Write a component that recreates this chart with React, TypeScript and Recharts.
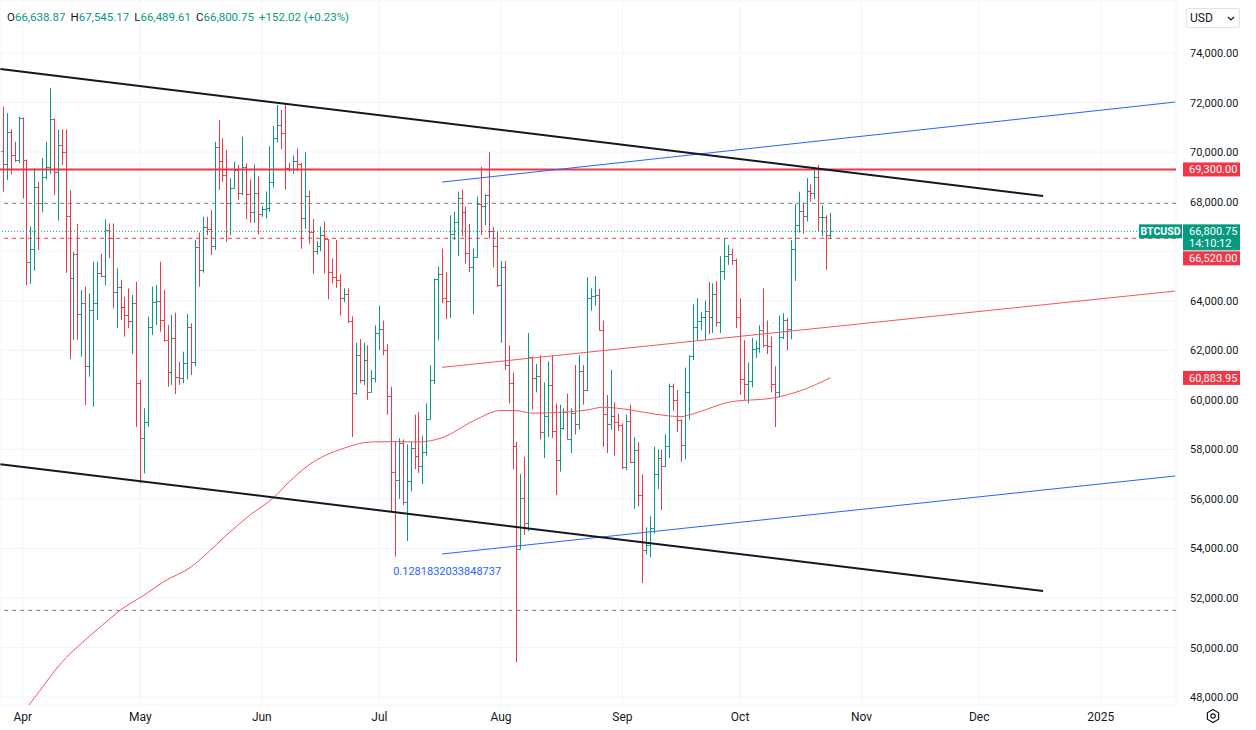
import React from "react";
import { ComposedChart, Bar, Line, XAxis, YAxis, CartesianGrid, ReferenceLine } from "recharts";

// BTCUSD daily bars, 27 Mar 2024 .. 24 Oct 2024. x = days since 1 Apr 2024.
const FIRST_DAY = -5;
const firstOpen = 70056;
const lastOpen = 66638.87;

const closes = [
  69520, 70820, 69900, 69700, 71360,
  69700, 65580, 66080, 68600, 67930, 68980, 69390, 71320, 69210, 70290,
  70020, 67420, 64900, 65900, 63460, 63920, 61360, 63630, 63920, 65130,
  65000, 66860, 66520, 64360, 64570, 63760, 63420, 63190, 63900, 60670,
  58450, 59120, 62950, 63960, 64000, 63220, 62400, 61130, 62480, 60930,
  60860, 61500, 62930, 61540, 66180, 65240, 66990, 66900, 66210, 70220,
  69650, 69080, 67930, 68540, 69280, 68340, 69390, 68300, 67578, 68364, 67491,
  67706, 67751, 68804, 70567, 71082, 70757, 69342, 69305, 69648, 69500,
  67321, 68243, 66756, 66012, 66192, 66639, 66490, 65140, 64960, 64828,
  64096, 64252, 63180, 60277, 61804, 60811, 61604, 60320, 60887, 62678,
  62851, 62029, 60173, 57100, 56760, 58239, 55857, 56705, 58047, 57724,
  57344, 57899, 59231, 60787, 64870, 65097, 64118, 63974, 66710, 67163,
  68154, 67586, 65927, 65372, 65777, 67912, 67813, 68255, 66819, 66201, 64619,
  65357, 61415, 60680, 58116, 53991, 56034, 55027, 61710, 60880, 60945,
  58719, 59354, 60609, 58737, 57560, 58874, 59491, 58427, 59479, 59014,
  61159, 60381, 64094, 64178, 64220, 62834, 59415, 59034, 59359, 59123, 58973,
  57301, 59132, 57487, 57971, 56160, 53948, 54139, 54841, 57020, 57648,
  57343, 58127, 60571, 60005, 59182, 58192, 60309, 61759, 62947, 63201,
  63348, 63579, 63339, 64262, 63143, 65181, 65790, 65887, 65635, 63329,
  60837, 60632, 60759, 62067, 62089, 62819, 62224, 62160, 60636, 60326,
  62540, 63206, 62870, 66083, 67074, 67620, 67421, 68428, 68362, 69001,
  67367, 67378, 66648.73, 66800.75,
];

const highs = [
  71830, 71570, 70920, 70420, 71430,
  71400, 69700, 66990, 69350, 68800, 69750, 70420, 72580, 71350, 70890,
  70920, 70920, 68470, 65980, 67100, 64430, 64570, 64300, 65580, 65580,
  65910, 67290, 67120, 67120, 65310, 64840, 64160, 64500, 64230, 64770,
  60800, 59660, 63360, 64570, 64630, 65580, 64430, 63020, 63420, 63520,
  61540, 61940, 63460, 63090, 66450, 66750, 67390, 67390, 67660, 70420,
  71300, 70560, 70080, 68940, 69610, 69480, 70620, 69550, 68900, 69500, 69020,
  67839, 68410, 70230, 71047, 71900, 71700, 71950, 69560, 69860, 70150,
  69560, 69999, 68440, 67300, 66400, 66990, 67200, 66490, 65700, 66450,
  65070, 64500, 64500, 63370, 62300, 62450, 62300, 62200, 61200, 63000,
  63800, 63200, 62250, 60530, 58310, 58450, 58400, 58200, 58300, 59400,
  59500, 58550, 59850, 61400, 64900, 65380, 66100, 65150, 67450, 67600,
  68400, 68480, 67800, 67100, 66100, 68200, 69400, 68300, 70000, 66980, 66800,
  65600, 65600, 62200, 61100, 58300, 57000, 57700, 62700, 61750, 61450,
  61800, 60700, 61550, 61800, 59850, 59800, 59650, 60250, 59650, 61400,
  61800, 61400, 64950, 64500, 65000, 64480, 63200, 60200, 61200, 59900, 59450,
  59050, 59400, 59800, 58500, 58300, 56980, 54850, 55300, 58100, 58000,
  57980, 58600, 60650, 60650, 60400, 59200, 61300, 61800, 63850, 64100,
  63550, 64000, 64750, 64700, 64800, 65800, 66500, 66250, 66100, 65700,
  64100, 62400, 61500, 62500, 62400, 63000, 64500, 63200, 62550, 61350,
  63400, 63500, 63300, 66450, 67900, 68400, 67950, 68950, 68700, 69400,
  69487, 67850, 67450, 67545.17,
];

const lows = [
  68400, 68870, 69100, 69600, 69560,
  68130, 64630, 64680, 65210, 66050, 67570, 68900, 69120, 68270, 67230,
  69480, 65130, 61640, 62410, 62410, 61740, 59790, 60930, 59720, 63220,
  64950, 64630, 65710, 63690, 62890, 63220, 62550, 62890, 61850, 58910,
  56630, 57030, 58910, 62620, 63020, 62750, 62350, 60530, 60600, 60230,
  60600, 60670, 60830, 61000, 61360, 64570, 65130, 66650, 65850, 66050,
  68470, 68800, 66380, 66650, 68540, 68070, 68260, 67300, 67150, 67140, 66670,
  67387, 67314, 67589, 68564, 70390, 70119, 68500, 69210, 69123, 69230,
  66100, 66900, 66300, 65080, 65870, 66000, 65100, 64060, 64700, 64520,
  63400, 63940, 63100, 58500, 60200, 60680, 60600, 60000, 60300, 60700,
  62000, 61800, 59400, 55480, 53670, 56000, 55750, 54300, 56300, 57200,
  57050, 56600, 57750, 59200, 60630, 62400, 63900, 63260, 63300, 66450,
  65800, 66600, 65500, 65150, 63450, 65750, 66650, 67050, 66500, 65350, 64550,
  62300, 61200, 59850, 57200, 49400, 53950, 54550, 54700, 59600, 60300,
  58400, 57650, 58500, 58450, 56150, 57100, 58800, 58400, 57850, 58600,
  58800, 59800, 60350, 63600, 63800, 62800, 58100, 57850, 58800, 57750, 58750,
  57200, 57150, 57450, 55600, 55700, 52600, 53750, 53650, 54600, 56400,
  55550, 57300, 57650, 59550, 58700, 57500, 57600, 59200, 61600, 62400,
  62800, 62400, 62650, 62700, 62950, 62700, 64850, 65450, 65450, 62900,
  60200, 60000, 59850, 60500, 61700, 61900, 62100, 61850, 60300, 58900,
  60100, 62450, 62000, 62450, 64800, 66750, 66700, 67200, 68000, 68100,
  66800, 66600, 65260, 66489.61,
];

// 200-day moving average at a few dates
const maDays = [1, 2, 11, 15, 20, 25, 31, 36, 43, 47, 52, 58, 64, 68, 73, 82, 89, 95, 101, 107, 115, 122, 126, 130, 135, 144, 148, 155, 161, 168, 170, 181, 191, 195, 199, 206];
const maValues = [47560, 47760, 49580, 50170, 50860, 51520, 52120, 52660, 53260, 53800, 54540, 55350, 56050, 56690, 57370, 58050, 58300, 58310, 58300, 58470, 59150, 59570, 59560, 59460, 59480, 59590, 59700, 59590, 59430, 59320, 59390, 59930, 60060, 60200, 60400, 60883.95];

const monthDays = [0, 30, 61, 91, 122, 153, 183, 214, 244, 275];
const monthLabels = ["Apr", "May", "Jun", "Jul", "Aug", "Sep", "Oct", "Nov", "Dec", "2025"];
const priceTicks = [48000, 50000, 52000, 54000, 56000, 58000, 60000, 62000, 64000, 66000, 68000, 70000, 72000, 74000];

// drawings, as [day, price] anchor pairs
const channelTop = [[-5.7, 73350], [260.3, 68230]];
const channelBottom = [[-5.7, 57400], [260.3, 52280]];
const blueTop = [[107, 68790], [294, 72020]];
const blueBottom = [[107, 53775], [294, 56925]];
const redTrend = [[107, 61310], [294, 64390]];

const resistance = 69300;
const alertLevel = 66520;
const lastPrice = 66800.75;
const maLast = 60883.95;
const dashedLevels = [67930, 51500];
const fibText = "0.1281832033848737";

const UP = "#089981";
const DOWN = "#f23645";
const FONT = "Roboto, 'Liberation Sans', sans-serif";

const fmt = (v: number) => v.toLocaleString("en-US", { minimumFractionDigits: 2, maximumFractionDigits: 2 });

function OhlcBar(props: any) {
  const { x, y, width, height, payload } = props;
  const { open, high, low, close } = payload;
  const top = Math.min(y, y + height);
  const bot = Math.max(y, y + height);
  const span = high - low || 1;
  const py = (v: number) => top + ((high - v) / span) * (bot - top);
  const cx = Math.round(x + width / 2) + 0.5;
  const c = close >= open ? UP : DOWN;
  const yo = Math.round(py(open)) + 0.5;
  const yc = Math.round(py(close)) + 0.5;
  return (
    <g>
      <line x1={cx} x2={cx} y1={top} y2={bot} stroke={c} strokeWidth={1} />
      <line x1={cx - 2} x2={cx} y1={yo} y2={yo} stroke={c} strokeWidth={1} />
      <line x1={cx} x2={cx + 2} y1={yc} y2={yc} stroke={c} strokeWidth={1} />
    </g>
  );
}

function PriceTag(props: any) {
  const { viewBox, text, sub, color, shift = 0, ticker } = props;
  if (!viewBox) return null;
  const ly = viewBox.y + shift;
  const left = viewBox.x + viewBox.width + 7;
  const h = sub ? 26 : 14;
  return (
    <g fontFamily={FONT}>
      {ticker && (
        <g>
          <rect x={left - 44} y={ly - 7} width={43} height={14} fill={color} />
          <text x={left - 22.5} y={ly + 4} fill="#fff" fontSize={10.5} fontWeight={700} textAnchor="middle">{ticker}</text>
        </g>
      )}
      <rect x={left} y={ly - 7} width={57} height={h} fill={color} />
      <text x={left + 6} y={ly + 4} fill="#fff" fontSize={11}>{text}</text>
      {sub && <text x={left + 6} y={ly + 16} fill="#fff" fontSize={11}>{sub}</text>}
    </g>
  );
}

function FibLabel(props: any) {
  const { viewBox } = props;
  if (!viewBox) return null;
  return (
    <text x={viewBox.x - 49} y={viewBox.y + viewBox.height + 21} fill="#2962ff" fontSize={11} fontFamily={FONT}>
      {fibText}
    </text>
  );
}

function PriceTick(props: any) {
  const { x, y, payload } = props;
  if (payload.value === 66000) return <g />;
  return (
    <text x={x} y={y + 4} fill="#131722" fontSize={11} fontFamily={FONT}>{fmt(payload.value)}</text>
  );
}

function MonthTick(props: any) {
  const { x, payload } = props;
  const i = monthDays.indexOf(payload.value);
  return (
    <text x={x} y={721} fill="#131722" fontSize={12} fontFamily={FONT} textAnchor="middle">{monthLabels[i]}</text>
  );
}

const seg = (p: number[][]) => [{ x: p[0][0], y: p[0][1] }, { x: p[1][0], y: p[1][1] }];

export default function App() {
  const data = closes.map((close, i) => {
    const d = FIRST_DAY + i;
    const k = maDays.indexOf(d);
    const open = i === 0 ? firstOpen : i === closes.length - 1 ? lastOpen : closes[i - 1];
    return {
      d,
      open,
      high: highs[i],
      low: lows[i],
      close,
      range: [lows[i], highs[i]],
      ma: k >= 0 ? maValues[k] : null,
    };
  });
  const last = data[data.length - 1];
  const prevClose = closes[closes.length - 2];
  const change = last.close - prevClose;
  const lbl = { color: "#131722", marginLeft: 5 };

  return (
    <div style={{ position: "relative", width: 1256, height: 730, background: "#fff", fontFamily: FONT }}>
      <style>{"body{margin:0}"}</style>
      <ComposedChart width={1256} height={730} data={data} margin={{ top: 0, right: 0, bottom: 0, left: 0 }}>
        <CartesianGrid stroke="#f0f3fa" />
        <XAxis
          dataKey="d"
          type="number"
          domain={[-5.79, 294.2]}
          allowDataOverflow
          ticks={monthDays}
          interval={0}
          tick={<MonthTick />}
          axisLine={false}
          tickLine={false}
          height={25}
        />
        <YAxis
          orientation="right"
          type="number"
          domain={[47679, 76140]}
          allowDataOverflow
          ticks={priceTicks}
          interval={0}
          tick={<PriceTick />}
          axisLine={false}
          tickLine={false}
          tickSize={6}
          tickMargin={8}
          width={80}
        />
        {dashedLevels.map((v) => (
          <ReferenceLine key={v} y={v} stroke="#787b86" strokeDasharray="4 4" />
        ))}
        <ReferenceLine y={alertLevel} stroke={DOWN} strokeDasharray="4 4" label={<PriceTag text={fmt(alertLevel)} color={DOWN} shift={20} />} />
        <ReferenceLine y={lastPrice} stroke={UP} strokeDasharray="1 2" label={<PriceTag text={fmt(lastPrice)} sub="14:10:12" ticker="BTCUSD" color={UP} />} />
        <ReferenceLine y={resistance} stroke={DOWN} strokeWidth={2} label={<PriceTag text={fmt(resistance)} color={DOWN} />} />
        <ReferenceLine y={maLast} stroke="none" strokeOpacity={0} label={<PriceTag text={fmt(maLast)} color={DOWN} />} />
        <ReferenceLine segment={seg(redTrend)} stroke="#f7525f" strokeWidth={1} />
        <ReferenceLine segment={seg(blueTop)} stroke="#2962ff" strokeWidth={1} />
        <ReferenceLine segment={seg(blueBottom)} stroke="#2962ff" strokeWidth={1} label={<FibLabel />} />
        <Line dataKey="ma" type="monotone" stroke="#f7525f" strokeWidth={1} dot={false} activeDot={false} connectNulls isAnimationActive={false} />
        <Bar dataKey="range" shape={<OhlcBar />} barSize={4} isAnimationActive={false} />
        <ReferenceLine segment={seg(channelTop)} stroke="#131722" strokeWidth={2} />
        <ReferenceLine segment={seg(channelBottom)} stroke="#131722" strokeWidth={2} />
      </ComposedChart>

      <div style={{ position: "absolute", left: 7, top: 9, fontSize: 11.5, lineHeight: "16px", color: UP, whiteSpace: "nowrap" }}>
        <span style={{ color: "#131722" }}>O</span>{fmt(last.open)}
        <span style={lbl}>H</span>{fmt(last.high)}
        <span style={lbl}>L</span>{fmt(last.low)}
        <span style={lbl}>C</span>{fmt(last.close)}
        <span style={{ marginLeft: 5 }}>{"+" + fmt(change)} (+{((change / prevClose) * 100).toFixed(2)}%)</span>
      </div>

      <div style={{ position: "absolute", left: 1186, top: 8, width: 54, height: 20, boxSizing: "border-box", border: "1px solid #e0e3eb", borderRadius: 2, fontSize: 12, lineHeight: "18px", color: "#131722", paddingLeft: 3 }}>
        USD
        <svg width="8" height="6" style={{ position: "absolute", right: 4, top: 7 }}>
          <path d="M1 1 L4 4 L7 1" fill="none" stroke="#131722" strokeWidth="1.2" />
        </svg>
      </div>

      <svg width="16" height="16" style={{ position: "absolute", left: 1205, top: 708 }}>
        <polygon points="8,1.5 13.6,4.75 13.6,11.25 8,14.5 2.4,11.25 2.4,4.75" fill="none" stroke="#131722" strokeWidth="1.2" />
        <circle cx="8" cy="8" r="2.2" fill="none" stroke="#131722" strokeWidth="1.2" />
      </svg>
    </div>
  );
}
